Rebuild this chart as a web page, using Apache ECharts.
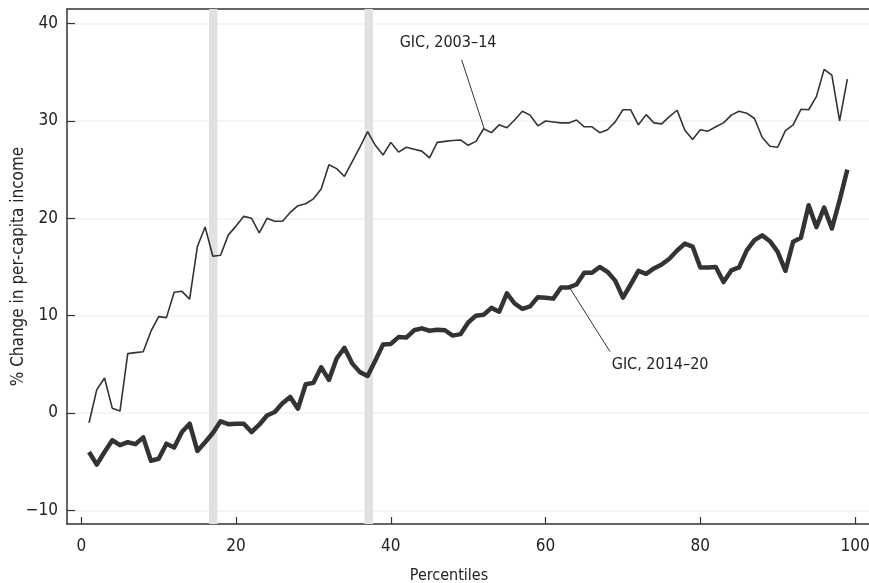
<!DOCTYPE html>
<html>
<head>
<meta charset="utf-8">
<script src="https://cdn.jsdelivr.net/npm/echarts@6/dist/echarts.min.js"></script>
<style>html,body{margin:0;padding:0;background:#fff;}#c{width:869px;height:583px;}</style>
</head>
<body>
<div id="c"></div>
<script>
var percentiles = [];
for (var i = 1; i <= 99; i++) percentiles.push(i);

var gic2003_14 = [-1.0,2.4,3.6,0.5,0.2,6.1,6.2,6.3,8.4,9.9,
  9.8,12.4,12.5,11.7,17.1,19.1,16.1,16.2,18.3,19.2,
  20.2,20.0,18.5,20.0,19.7,19.7,20.6,21.3,21.5,22.0,
  23.0,25.5,25.1,24.3,25.8,27.3,28.9,27.5,26.5,27.8,
  26.8,27.3,27.1,26.9,26.2,27.8,27.9,28.0,28.05,27.5,
  27.9,29.2,28.8,29.6,29.3,30.1,31.0,30.6,29.5,30.0,
  29.9,29.8,29.8,30.1,29.4,29.4,28.8,29.1,29.9,31.15,
  31.15,29.6,30.65,29.8,29.7,30.45,31.1,29.05,28.1,29.1,
  28.95,29.4,29.8,30.6,31.0,30.8,30.25,28.3,27.4,27.3,
  29.0,29.6,31.2,31.15,32.5,35.3,34.7,30.0,34.3];

var gic2014_20 = [-4.0,-5.3,-4.0,-2.8,-3.3,-3.0,-3.2,-2.5,-4.9,-4.7,
  -3.15,-3.55,-1.95,-1.1,-3.9,-3.0,-2.05,-0.85,-1.15,-1.1,
  -1.1,-1.95,-1.2,-0.25,0.1,1.0,1.65,0.45,2.95,3.1,
  4.7,3.4,5.6,6.7,5.1,4.2,3.8,5.4,7.05,7.1,
  7.8,7.75,8.5,8.7,8.45,8.55,8.5,7.95,8.1,9.3,
  10.0,10.1,10.8,10.4,12.3,11.25,10.7,10.95,11.9,11.85,
  11.75,12.9,12.9,13.2,14.4,14.4,15.0,14.5,13.6,11.85,
  13.2,14.6,14.3,14.85,15.25,15.85,16.7,17.4,17.1,14.95,
  14.95,15.0,13.45,14.65,14.95,16.7,17.75,18.25,17.65,16.55,
  14.6,17.6,18.0,21.35,19.1,21.1,18.95,21.85,25.0];

var xTicks = [0, 20, 40, 60, 80, 100];
var yTicks = [-10, 0, 10, 20, 30, 40];
var bandRanges = [[16.5, 17.6], [36.6, 37.7]];

var label1 = {text: 'GIC, 2003\u201314', at: [47.4, 38.0], leaderFrom: [49.16, 36.26], leaderTo: [52.05, 29.25]};
var label2 = {text: 'GIC, 2014\u201320', at: [74.8, 4.93], leaderFrom: [68.33, 6.30], leaderTo: [63.16, 12.81]};

var FONT = '"DejaVu Sans Condensed", "Liberation Sans Narrow", "Roboto", sans-serif';
var INK = '#333333';

function pairs(xs, ys) { return xs.map(function (x, i) { return [x, ys[i]]; }); }
function minus(v) { return String(v).replace('-', '\u2212'); }

var chart = echarts.init(document.getElementById('c'), null, {renderer: 'canvas'});
chart.setOption({
  animation: false,
  backgroundColor: '#ffffff',
  textStyle: {fontFamily: FONT},
  grid: {left: 67, right: 0, top: 9, bottom: 59, containLabel: false, outerBoundsMode: 'none'},
  xAxis: [{
    type: 'value', min: -1.85, max: 101.8,
    name: 'Percentiles', nameLocation: 'middle', nameGap: 44,
    nameTextStyle: {fontFamily: FONT, fontSize: 16, color: '#222', padding: [0, 38, 0, 0]},
    axisLine: {show: true, onZero: false, lineStyle: {color: INK, width: 1.5}},
    axisTick: {show: true, inside: true, length: 7, customValues: xTicks, lineStyle: {color: INK, width: 1.2}},
    axisLabel: {customValues: xTicks, fontFamily: FONT, fontSize: 17, color: '#222', margin: 14},
    splitLine: {show: false}
  }, {
    type: 'value', position: 'top', min: -1.85, max: 101.8,
    axisLine: {show: true, onZero: false, lineStyle: {color: INK, width: 1.5}},
    axisTick: {show: false}, axisLabel: {show: false}, splitLine: {show: false}
  }],
  yAxis: {
    type: 'value', min: -11.4, max: 41.5,
    name: '% Change in per-capita income', nameLocation: 'middle', nameGap: 40, nameRotate: 90,
    nameMoveOverlap: false,
    nameTextStyle: {fontFamily: FONT, fontSize: 17, color: '#222'},
    axisLine: {show: true, onZero: false, lineStyle: {color: INK, width: 1.5}},
    axisTick: {show: true, inside: true, length: 8, customValues: yTicks, lineStyle: {color: INK, width: 1.2}},
    axisLabel: {customValues: yTicks, fontFamily: FONT, fontSize: 17, color: '#222', margin: 9, formatter: minus},
    splitLine: {show: true, lineStyle: {color: '#f1f1f1', width: 1.5}}
  },
  series: [{
    name: 'GIC, 2003\u201314', type: 'line', data: pairs(percentiles, gic2003_14),
    showSymbol: false, symbol: 'none',
    lineStyle: {color: INK, width: 1.6}, z: 3,
    markArea: {
      silent: true,
      itemStyle: {color: '#e1e1e4'},
      data: bandRanges.map(function (r) { return [{xAxis: r[0]}, {xAxis: r[1]}]; })
    },
    markLine: {
      silent: true, symbol: 'none', label: {show: false},
      lineStyle: {color: INK, width: 1, type: 'solid'},
      data: [[{coord: label1.leaderFrom}, {coord: label1.leaderTo}],
             [{coord: label2.leaderFrom}, {coord: label2.leaderTo}]]
    },
    markPoint: {
      silent: true, symbol: 'circle', symbolSize: 0,
      label: {show: true, position: 'inside', fontFamily: FONT, fontSize: 16, color: '#222',
        formatter: function (p) { return p.name; }},
      data: [{name: label1.text, coord: label1.at}, {name: label2.text, coord: label2.at}]
    }
  }, {
    name: 'GIC, 2014\u201320', type: 'line', data: pairs(percentiles, gic2014_20),
    showSymbol: false, symbol: 'none',
    lineStyle: {color: INK, width: 4.5, join: 'round'}, z: 4
  }]
});
</script>
</body>
</html>
